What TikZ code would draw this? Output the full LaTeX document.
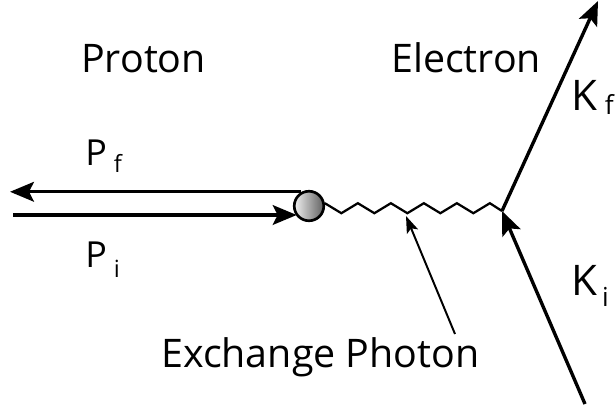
\documentclass[tikz,border=0pt]{standalone}
\usepackage{fontspec}
\setmainfont{Open Sans}
\usepackage{graphicx}
\usetikzlibrary{arrows.meta,positioning}
% letter, index, index scale, gap, drop
\newcommand{\momlabel}[5]{#1\kern#4\raisebox{-#5}{\scalebox{#3}{#2}}}

\begin{document}
\begin{tikzpicture}[x=0.025cm, y=-0.025cm,
  title/.style={inner sep=0pt, anchor=base west, font=\fontsize{28}{34}\selectfont},
  mom/.style={inner sep=0pt, anchor=base west, font=\fontsize{30}{36}\selectfont},
  pmom/.style={mom, font=\fontsize{25.5}{30}\selectfont},
  leg/.style={line width=2.4pt, -{Stealth[length=17pt, width=14pt, inset=3.5pt]}},
  photon/.style={line width=1.6pt, line join=miter},
  pointer/.style={line width=1.4pt, -{Stealth[length=12pt, width=8.5pt, inset=2.5pt]}},
  ballnode/.style={circle, draw, line width=1.9pt, minimum size=21pt, inner sep=0pt,
    shading=axis, left color=gray!12, right color=gray!75!black}]
\useasboundingbox (0,0) rectangle (616,409);

% texts
\node[title] (proton label) at (81,72) {Proton};
\node[title] (electron label) at (391,72) {Electron};
\node[title] (photon label) at (161,367) {Exchange Photon};
\node[pmom] (pf) at (85,165) {\momlabel{P}{f}{0.66}{5pt}{5.5pt}};
\node[pmom] (pi) at (85,267) {\momlabel{P}{i}{0.66}{5pt}{7.5pt}};
\node[mom] (kf) at (571,110) {\momlabel{K}{f}{0.62}{5.5pt}{3.5pt}};
\node[mom] (ki) at (571,295) {\momlabel{K}{i}{0.62}{3.5pt}{8.5pt}};

% proton side
\node[ballnode] (proton) at (309,206) {};
\coordinate (pf end) at (10,193);
\coordinate (pi start) at (13,215);
\draw[leg] (proton.118) -- (pf end |- proton.118);
\draw[leg] (pi start) -- (proton.-140 |- pi start);

% electron side
\coordinate (vertex) at (502,211);
\coordinate (ki start) at (585,404);
\coordinate (kf end) at (598,1);
\draw[leg] (ki start) -- (vertex);
\draw[leg] (vertex) -- (kf end);

% exchanged photon
\draw[photon] (proton.10) \foreach \i in {1,...,5} {-- ++(16.5,10) -- ++(16.5,-10)} -- (vertex);
\coordinate (photon tip) at (406,216);
\coordinate (photon tail) at (455,334);
\draw[pointer] (photon tail) -- (photon tip);
\end{tikzpicture}
\end{document}
